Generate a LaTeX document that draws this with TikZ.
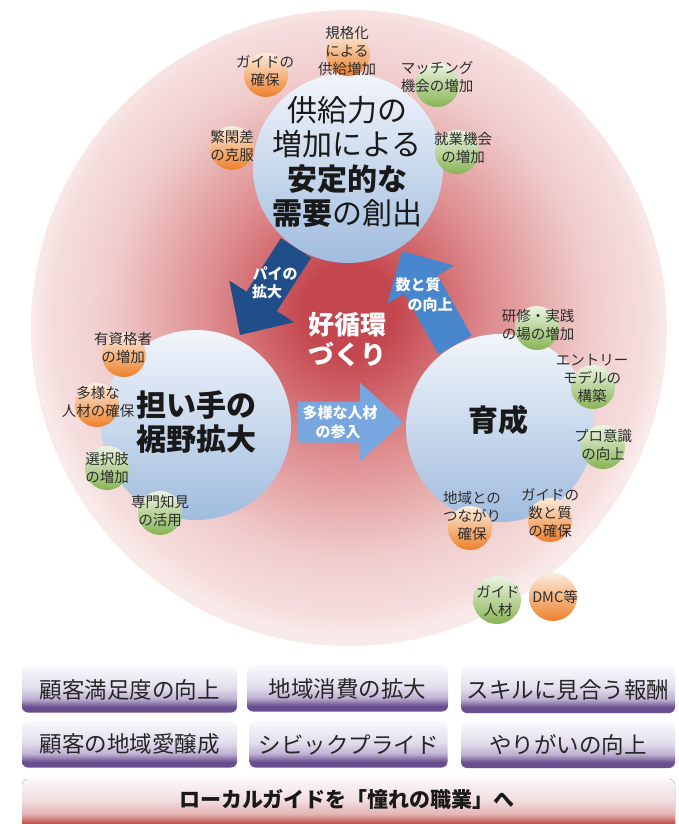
\documentclass[tikz,border=0pt]{standalone}
\usepackage{fontspec}
\setmainfont{Noto Sans CJK JP}
\usetikzlibrary{calc}
\definecolor{glowc}{RGB}{196,70,78}
\definecolor{glowm}{RGB}{222,140,142}
\definecolor{glowo}{RGB}{240,204,204}
\definecolor{glowe}{RGB}{246,222,222}
\definecolor{glowx}{RGB}{249,234,234}
\definecolor{bluetop}{RGB}{242,245,251}
\definecolor{bluebot}{RGB}{160,188,222}
\definecolor{orgtop}{RGB}{252,236,222}
\definecolor{orgbot}{RGB}{238,128,42}
\definecolor{grntop}{RGB}{236,244,226}
\definecolor{grnbot}{RGB}{135,180,85}
\definecolor{lblgray}{RGB}{45,45,45}
\definecolor{darkarr}{RGB}{31,78,136}
\definecolor{midarr}{RGB}{72,134,206}
\definecolor{lightarr}{RGB}{120,166,222}
\definecolor{ptop}{RGB}{249,248,252}
\definecolor{pmid}{RGB}{226,221,236}
\definecolor{plav}{RGB}{190,178,210}
\definecolor{pbot}{RGB}{104,78,142}
\definecolor{rtop}{RGB}{250,246,248}
\definecolor{rmid}{RGB}{242,222,224}
\definecolor{rpink}{RGB}{228,180,180}
\definecolor{rbot}{RGB}{192,78,74}
\pgfdeclareradialshading{bigglow}{\pgfpoint{0bp}{1.5bp}}{color(0bp)=(glowc); color(3.5bp)=(glowc); color(11bp)=(glowm); color(19bp)=(glowo); color(23.5bp)=(glowe); color(25bp)=(glowx); color(50bp)=(glowx)}
\pgfdeclareverticalshading{purplebox}{100bp}{color(0bp)=(pbot); color(31bp)=(pbot); color(40bp)=(plav); color(52bp)=(pmid); color(75bp)=(ptop); color(100bp)=(ptop)}
\pgfdeclareverticalshading{redbox}{100bp}{color(0bp)=(rbot); color(33bp)=(rbot); color(42bp)=(rpink); color(55bp)=(rmid); color(75bp)=(rtop); color(100bp)=(rtop)}
\newcommand\blockarr[6]{%
  \coordinate (hb) at ($(#2)!#5!(#1)$);
  \fill[#6] ($(#1)!#3!90:(#2)$) -- ($(hb)!#3!90:(#2)$) -- ($(hb)!#4!90:(#2)$) -- (#2)
    -- ($(hb)!#4!-90:(#2)$) -- ($(hb)!#3!-90:(#2)$) -- ($(#1)!#3!-90:(#2)$) -- cycle;
}
\begin{document}
\begin{tikzpicture}[x=1pt,y=-1pt,
  every node/.style={inner sep=0pt,outer sep=0pt},
  bigc/.style={circle,minimum size=190pt,top color=bluetop,bottom color=bluebot},
  ballo/.style={circle,minimum size=44pt,top color=orgtop,bottom color=orgbot},
  ballg/.style={circle,minimum size=44pt,top color=grntop,bottom color=grnbot},
  lbl/.style={align=center,text=lblgray,font=\fontsize{14.5}{18}\selectfont},
  maintxt/.style={align=center,text=black!90,font=\fontsize{30}{34.5}\selectfont},
  arrtxt/.style={align=center,text=white,font=\bfseries\fontsize{15}{18}\selectfont},
  pbox/.style={rounded corners=6pt,shading=purplebox,minimum height=46pt,text=black!85,font=\fontsize{22.5}{26}\selectfont},
]
\useasboundingbox (0,0) rectangle (678,824);
\clip (0,0) rectangle (678,824);
\fill[white] (0,0) rectangle (678,824);
% big glow circle
\node[circle,minimum size=636pt,shading=bigglow] (glow) at (349,328) {};
% block arrows
\coordinate (pA1) at (296,248); \coordinate (pB1) at (240,335);
\coordinate (pA2) at (455,345); \coordinate (pB2) at (402,251);
\coordinate (pA3) at (298,422); \coordinate (pB3) at (403,422);
\blockarr{pA1}{pB1}{18pt}{38.5pt}{40pt}{darkarr}
\blockarr{pA2}{pB2}{19pt}{38.5pt}{38.5pt}{midarr}
\blockarr{pA3}{pB3}{20.5pt}{39.5pt}{43pt}{lightarr}
% three main circles
\node[bigc] (top) at (348,168) {};
\node[bigc] (left) at (196,425) {};
\node[bigc,minimum size=188pt] (right) at (500,428) {};
\node[maintxt] (toptxt) at (347,162) {供給力の\\増加による\\\textbf{安定的な}\\\textbf{需要}の創出};
\node[maintxt,font=\bfseries\fontsize{30}{34}\selectfont] (lefttxt) at (196,422) {担い手の\\裾野拡大};
\node[maintxt,font=\bfseries\fontsize{30}{34}\selectfont] (righttxt) at (498,420) {育成};
\node[align=center,text=white,font=\bfseries\fontsize{26}{30}\selectfont] (center) at (347,340) {好循環\\づくり};
% arrow texts
\node[arrtxt] (a1a) at (275,273) {パイの};
\node[arrtxt] (a1b) at (267,292) {拡大};
\node[arrtxt] (a2a) at (418,285) {数と質};
\node[arrtxt] (a2b) at (430,305) {の向上};
\node[arrtxt] (a3a) at (340,413) {多様な人材};
\node[arrtxt] (a3b) at (338,432) {の参入};
% small circles: top
\node[ballo] (c1) at (348,54) {};
\node[lbl] (t1) at (347,51) {規格化\\による\\供給増加};
\node[ballo] (c2) at (266,75) {};
\node[lbl] (t2) at (265,71) {ガイドの\\確保};
\node[ballg] (c3) at (437,85) {};
\node[lbl] (t3) at (437,77) {マッチング\\機会の増加};
\node[ballo] (c4) at (232,148) {};
\node[lbl] (t4) at (232,146) {繁閑差\\の克服};
\node[ballg] (c5) at (457,152) {};
\node[lbl] (t5) at (463,148) {就業機会\\の増加};
% left
\node[ballo] (c6) at (124,355) {};
\node[lbl] (t6) at (123,348) {有資格者\\の増加};
\node[ballo] (c7) at (97,405) {};
\node[lbl] (t7) at (98,402) {多様な\\人材の確保};
\node[ballg] (c8) at (107,468) {};
\node[lbl] (t8) at (107,468) {選択肢\\の増加};
\node[ballg] (c9) at (160,513) {};
\node[lbl] (t9) at (160,511) {専門知見\\の活用};
% right
\node[ballg] (c10) at (537,328) {};
\node[lbl] (t10) at (538,325) {研修・実践\\の場の増加};
\node[ballg] (c11) at (593,387) {};
\node[lbl] (t11) at (592,378) {エントリー\\モデルの\\構築};
\node[ballg] (c12) at (603,447) {};
\node[lbl] (t12) at (603,445) {プロ意識\\の向上};
\node[ballo] (c13) at (470,528) {};
\node[lbl] (t13) at (472,516) {地域との\\つながり\\確保};
\node[ballo] (c14) at (550,520) {};
\node[lbl] (t14) at (550,513) {ガイドの\\数と質\\の確保};
% bottom pair
\node[ballg,minimum size=48pt] (c15) at (497,600) {};
\node[lbl] (t15) at (498,601) {ガイド\\人材};
\node[ballo,minimum size=48pt] (c16) at (553,597) {};
\node[lbl] (t16) at (555,597) {DMC等};
% bottom boxes
\node[pbox,minimum width=215pt] (b1) at (129.5,689.5) {顧客満足度の向上};
\node[pbox,minimum width=201pt] (b2) at (347.5,688.5) {地域消費の拡大};
\node[pbox,minimum width=214pt] (b3) at (568,690) {スキルに見合う報酬};
\node[pbox,minimum width=215pt] (b4) at (129.5,744.5) {顧客の地域愛醸成};
\node[pbox,minimum width=198pt] (b5) at (348.5,744.5) {シビックプライド};
\node[pbox,minimum width=214pt] (b6) at (568,745) {やりがいの向上};
\fill[shading=redbox,rounded corners=6pt] (22,779) rectangle (675,832);
\node[text=black!90,font=\bfseries\fontsize{21}{24}\selectfont] (goal) at (347,800) {ローカルガイドを「憧れの職業」へ};
\fill[black] (644,831) circle (7);
\end{tikzpicture}
\end{document}
